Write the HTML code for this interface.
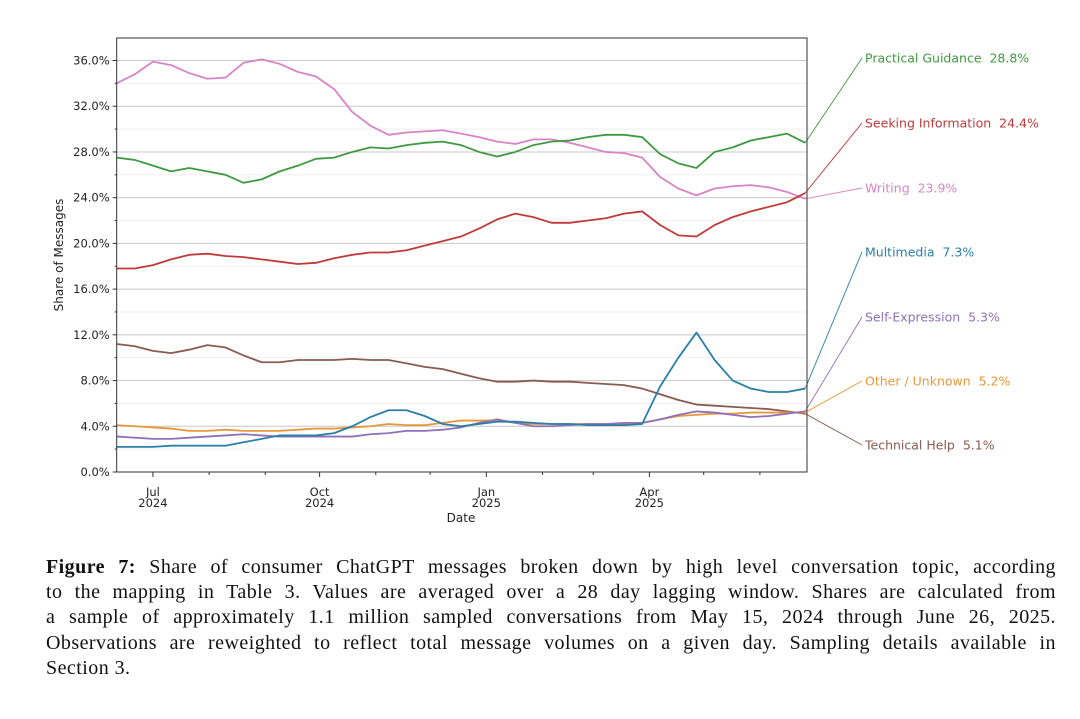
<!DOCTYPE html>
<html><head><meta charset="utf-8"><style>
body{margin:0;background:#fff;width:1080px;height:719px;overflow:hidden}
svg text{font-family:"DejaVu Sans","Liberation Sans",sans-serif}
#cap{position:absolute;left:46px;top:555px;width:1010px;font-family:"Liberation Serif",serif;font-size:20px;letter-spacing:0.45px;line-height:25.2px;color:#111}
#cap .ln{display:block;text-align:justify;text-align-last:justify;white-space:nowrap}
#cap .last{text-align-last:left}
</style></head><body>
<svg id="chart" width="1080" height="540" style="position:absolute;left:0;top:0"></svg>
<div id="cap"><span class="ln"><b>Figure 7:</b> Share of consumer ChatGPT messages broken down by high level conversation topic, according</span><span class="ln">to the mapping in Table 3. Values are averaged over a 28 day lagging window. Shares are calculated from</span><span class="ln">a sample of approximately 1.1 million sampled conversations from May 15, 2024 through June 26, 2025.</span><span class="ln">Observations are reweighted to reflect total message volumes on a given day. Sampling details available in</span><span class="ln last">Section 3.</span></div>
<script>
// day offsets from 2024-06-11, every 10 days
const days=[0,10,20,30,40,50,60,70,80,90,100,110,120,130,140,150,160,170,180,190,200,210,220,230,240,250,260,270,280,290,300,310,320,330,340,350,360,370,380];
const practical=[27.5,27.3,26.8,26.3,26.6,26.3,26.0,25.3,25.6,26.3,26.8,27.4,27.5,28.0,28.4,28.3,28.6,28.8,28.9,28.6,28.0,27.6,28.0,28.6,28.9,29.0,29.3,29.5,29.5,29.3,27.8,27.0,26.6,28.0,28.4,29.0,29.3,29.6,28.8];
const seeking=[17.8,17.8,18.1,18.6,19.0,19.1,18.9,18.8,18.6,18.4,18.2,18.3,18.7,19.0,19.2,19.2,19.4,19.8,20.2,20.6,21.3,22.1,22.6,22.3,21.8,21.8,22.0,22.2,22.6,22.8,21.6,20.7,20.6,21.6,22.3,22.8,23.2,23.6,24.4];
const writing=[34.0,34.8,35.9,35.6,34.9,34.4,34.5,35.8,36.1,35.7,35.0,34.6,33.5,31.5,30.3,29.5,29.7,29.8,29.9,29.6,29.3,28.9,28.7,29.1,29.1,28.8,28.4,28.0,27.9,27.5,25.8,24.8,24.2,24.8,25.0,25.1,24.9,24.5,23.9];
const multimedia=[2.2,2.2,2.2,2.3,2.3,2.3,2.3,2.6,2.9,3.2,3.2,3.2,3.4,4.0,4.8,5.4,5.4,4.9,4.2,4.0,4.2,4.4,4.4,4.3,4.2,4.2,4.1,4.1,4.1,4.2,7.5,10.0,12.2,9.8,8.0,7.3,7.0,7.0,7.3];
const selfexp=[3.1,3.0,2.9,2.9,3.0,3.1,3.2,3.3,3.2,3.1,3.1,3.1,3.1,3.1,3.3,3.4,3.6,3.6,3.7,3.9,4.3,4.6,4.3,4.0,4.0,4.1,4.2,4.2,4.3,4.3,4.6,5.0,5.3,5.2,5.0,4.8,4.9,5.1,5.3];
const other=[4.1,4.0,3.9,3.8,3.6,3.6,3.7,3.6,3.6,3.6,3.7,3.8,3.8,3.9,4.0,4.2,4.1,4.1,4.3,4.5,4.5,4.5,4.3,4.2,4.2,4.2,4.2,4.2,4.2,4.3,4.6,4.9,5.0,5.1,5.1,5.2,5.2,5.2,5.2];
const technical=[11.2,11.0,10.6,10.4,10.7,11.1,10.9,10.2,9.6,9.6,9.8,9.8,9.8,9.9,9.8,9.8,9.5,9.2,9.0,8.6,8.2,7.9,7.9,8.0,7.9,7.9,7.8,7.7,7.6,7.3,6.8,6.3,5.9,5.8,5.7,5.6,5.5,5.3,5.1];
const seriesNames=["Practical Guidance","Seeking Information","Writing","Multimedia","Self-Expression","Other / Unknown","Technical Help"];
const yTicks=[0,4,8,12,16,20,24,28,32,36];
const xTickDays=[20,112,204,294];
const xTickLabels=[["Jul","2024"],["Oct","2024"],["Jan","2025"],["Apr","2025"]];
const minorXDays=[51,82,143,173,235,263,324,355];

const svg=document.getElementById('chart');const NS='http://www.w3.org/2000/svg';
const L=116.7,R=807,T=38,B=472;
const x=d=>L+d*(R-L)/381;
const y=v=>B-v*(B-60.5)/36;
function mk(t,a,p){const e=document.createElementNS(NS,t);for(const k in a)e.setAttribute(k,a[k]);(p||svg).appendChild(e);return e;}
for(let v=2;v<38;v+=4){const g=mk('line',{x1:L,x2:R,y1:y(v),y2:y(v),stroke:'#eee','stroke-width':0.8});

}
yTicks.forEach(v=>{const g=mk('line',{x1:L,x2:R,y1:y(v),y2:y(v),stroke:'#c8c8c8','stroke-width':1});


mk('line',{x1:L-4,x2:L,y1:y(v),y2:y(v),stroke:'#333'});
const t=mk('text',{x:L-7,y:y(v)+4,'text-anchor':'end','font-size':11.5,fill:'#222'});t.textContent=v.toFixed(1)+'%';

});
for(let v=2;v<38;v+=4)mk('line',{x1:L-2,x2:L,y1:y(v),y2:y(v),stroke:'#333'});
xTickDays.forEach((d,i)=>{mk('line',{x1:x(d),x2:x(d),y1:B,y2:B+5,stroke:'#333'});
xTickLabels[i].forEach((s,j)=>{const t=mk('text',{x:x(d),y:B+24+j*11,'text-anchor':'middle','font-size':11.5,fill:'#222'});t.textContent=s;

});});
minorXDays.forEach(d=>mk('line',{x1:x(d),x2:x(d),y1:B,y2:B+3,stroke:'#333'}));
const colors=['#3f9a3f','#c03a3a','#d884c8','#2a7fa8','#9070b8','#e8983a','#8a5a50'];
const data=[practical,seeking,writing,multimedia,selfexp,other,technical];
const labY=[58,123,188,252,317,381,445];
const draw=[2,0,1,6,5,4,3];
draw.forEach(i=>{const p=mk('polyline',{points:days.map((d,k)=>x(d)+','+y(data[i][k])).join(' '),fill:'none',stroke:colors[i],'stroke-width':1.8,'stroke-linejoin':'round'});

});
data.forEach((s,i)=>{const last=s[s.length-1];
mk('line',{x1:x(days[days.length-1]),y1:y(last),x2:862,y2:labY[i],stroke:colors[i],'stroke-width':0.9});
const t=mk('text',{x:865,y:labY[i]+4.5,'font-size':12.5,fill:colors[i]});t.textContent=seriesNames[i]+'  '+last.toFixed(1)+'%';
t.setAttribute('xml:space','preserve');t.style.whiteSpace='pre';

});
const fr=mk('rect',{x:L,y:T,width:R-L,height:B-T,fill:'none',stroke:'#333','stroke-width':1});


const yl=mk('text',{x:0,y:0,transform:'translate(63,255) rotate(-90)','text-anchor':'middle','font-size':12,fill:'#222'});yl.textContent='Share of Messages';


const xl=mk('text',{x:461,y:522,'text-anchor':'middle','font-size':12,fill:'#222'});xl.textContent='Date';


</script>
</body></html>
